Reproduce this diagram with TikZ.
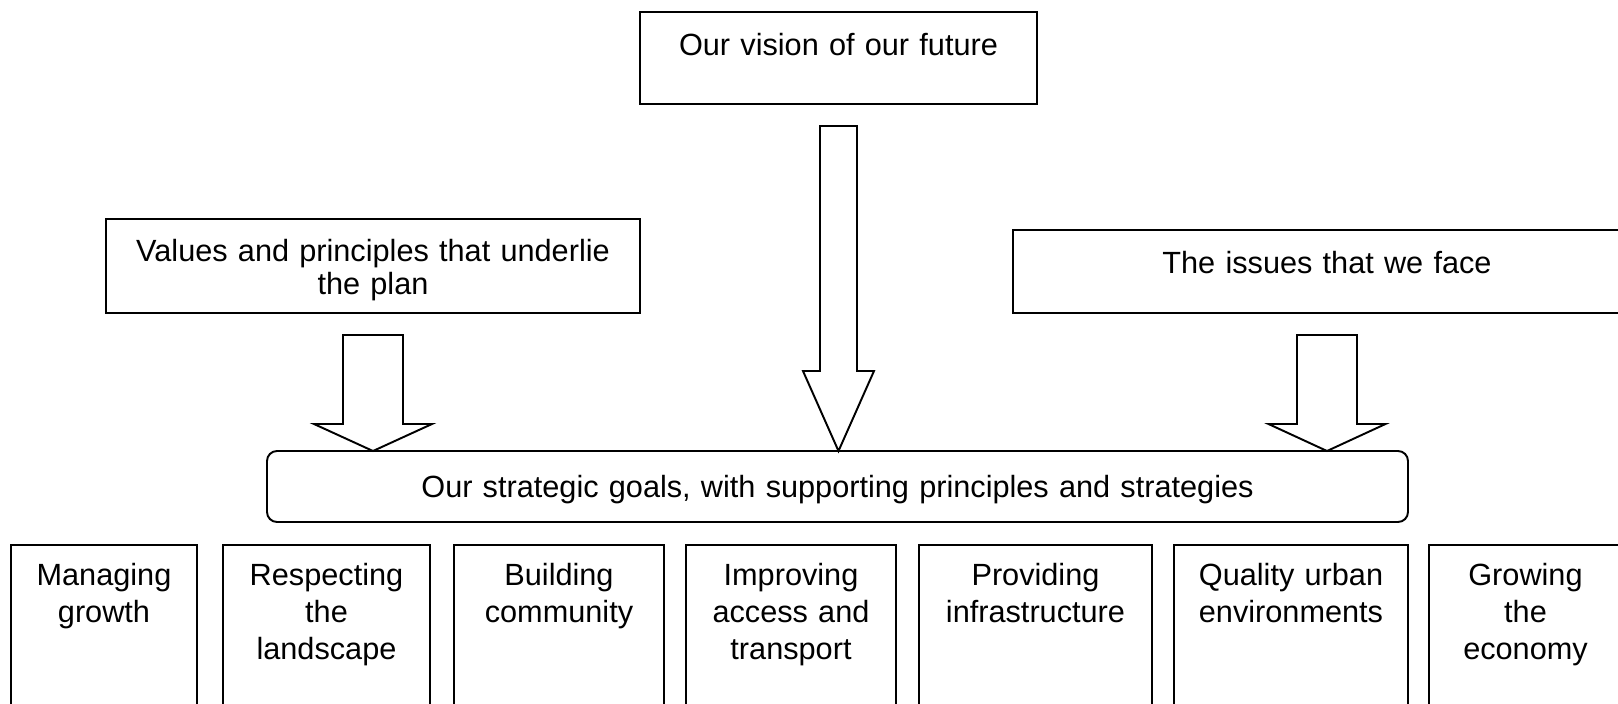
\documentclass[tikz,border=0pt]{standalone}
\usepackage{fontspec}
\setmainfont{Liberation Sans}
\usetikzlibrary{calc}
\newcommand{\blockArrow}[4]{%
  \draw[blockarr] let \p1=(#1.south), \p2=(goals.north) in
    (\x1-#2,\y1-0.22cm) -- (\x1+#2,\y1-0.22cm) -- (\x1+#2,\y2+#4) -- (\x1+#3,\y2+#4)
    -- (\x1,\y2) -- (\x1-#3,\y2+#4) -- (\x1-#2,\y2+#4) -- cycle;}
\tikzset{
  box/.style={draw, line width=0.55pt, inner sep=0pt, outer sep=0pt, anchor=north,
    align=center, font=\fontsize{8.73}{9.5}\selectfont},
  goalbox/.style={box, text width=#1, text height=0.40cm, text depth=1.35cm,
    font=\fontsize{8.73}{10.6}\selectfont},
  blockarr/.style={draw, line width=0.55pt, line join=miter}
}

\begin{document}
\begin{tikzpicture}
      \useasboundingbox (0,0) rectangle (16.18,7.03);
      \node[box, text width=3.97cm, text height=0.43cm, text depth=0.49cm] (vision) at (8.385,6.91) {Our vision of our future};
      \node[box, text width=5.34cm, text height=0.42cm, text depth=0.52cm] (values) at (3.73,4.84) {Values and principles that underlie\\the plan};
      \node[box, text width=6.28cm, text height=0.43cm, text depth=0.40cm] (issues) at (13.27,4.73) {The issues that we face};
      \node[box, rounded corners=0.1cm, text width=11.41cm, text height=0.46cm, text depth=0.25cm] (goals) at (8.375,2.52) {Our strategic goals, with supporting principles and strategies};
      \blockArrow{values}{0.30cm}{0.59cm}{0.27cm}
      \blockArrow{vision}{0.185cm}{0.355cm}{0.80cm}
      \blockArrow{issues}{0.30cm}{0.585cm}{0.27cm}
      \node[goalbox=1.86cm] (growth) at (1.04,1.58) {Managing\\growth};
      \node[goalbox=2.07cm] (landscape) at (3.265,1.58) {Respecting\\the\\landscape};
      \node[goalbox=2.10cm] (community) at (5.59,1.58) {Building\\community};
      \node[goalbox=2.10cm] (transport) at (7.91,1.58) {Improving\\access and\\transport};
      \node[goalbox=2.33cm] (infra) at (10.355,1.58) {Providing\\infrastructure};
      \node[goalbox=2.34cm] (urban) at (12.91,1.58) {Quality urban\\environments};
      \node[goalbox=1.93cm] (economy) at (15.255,1.58) {Growing\\the\\economy};
    \end{tikzpicture}
\end{document}
